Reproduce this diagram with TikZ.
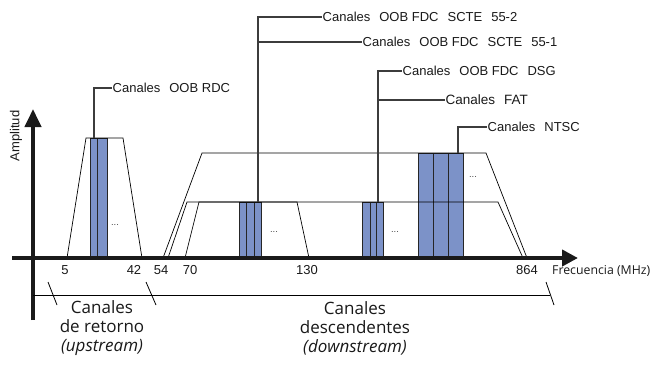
\documentclass[tikz,border=0pt]{standalone}
\usepackage{fontspec}
\setmainfont{Liberation Sans}
\newfontfamily\hum{Open Sans}
\usetikzlibrary{arrows.meta}
\definecolor{barblue}{RGB}{124,146,200}
\definecolor{leadgray}{RGB}{60,60,60}
\definecolor{axisblack}{RGB}{26,26,26}
\newcommand{\gp}{\hspace{9pt}}
\tikzset{
  trap/.style={line width=0.7pt, black},
  bar/.style={fill=barblue, draw=black!85, line width=0.6pt},
  lead/.style={line width=1.2pt, leadgray},
  axisline/.style={line width=4pt, axisblack},
  lab/.style={font=\fontsize{13}{15}\selectfont, anchor=west, inner sep=0.5pt, text=black!90},
  tick/.style={font=\fontsize{13}{15}\selectfont, inner sep=0pt, text=black!90},
  dots/.style={font=\fontsize{9.5}{10}\selectfont, inner sep=0pt, text=black!70},
  big/.style={font=\hum\fontsize{17}{19}\selectfont, align=center, inner sep=0pt, text=black!90},
  thin/.style={line width=0.8pt, black}
}
\begin{document}
\begin{tikzpicture}[x=1pt,y=-1pt]
\useasboundingbox (0,0) rectangle (658,373);
% bars
\draw[bar] (90,138) rectangle (97,258);
\draw[bar] (97,138) rectangle (107,258);
\draw[bar] (239,202) rectangle (246,258);
\draw[bar] (246,202) rectangle (254,258);
\draw[bar] (254,202) rectangle (261,258);
\draw[bar] (362,202) rectangle (370,258);
\draw[bar] (370,202) rectangle (376,258);
\draw[bar] (376,202) rectangle (383,258);
\draw[bar] (418,153) rectangle (433,258);
\draw[bar] (433,153) rectangle (448,258);
\draw[bar] (448,153) rectangle (463,258);
% trapezoids
\draw[trap] (67,258) -- (86,138) -- (123,138) -- (142,258);
\draw[trap] (163,258) -- (202,153) -- (486,153) -- (527,258);
\draw[trap] (168,258) -- (187,202) -- (498,202) -- (523,258);
\draw[trap] (185,258) -- (199,202) -- (297,202) -- (309,258);
% dots
\node[dots] (d1) at (115,225) {...};
\node[dots] (d2) at (274,232) {...};
\node[dots] (d3) at (395,232) {...};
\node[dots] (d4) at (473,177) {...};
% axes
\draw[axisline, -{Triangle[length=16pt,width=16pt]}] (12,258) -- (578,258);
\draw[axisline, -{Triangle[length=18pt,width=16pt]}] (33,320) -- (33,109);
\node[font=\fontsize{13}{15}\selectfont, rotate=90, inner sep=0pt, text=black!90] (amp) at (16,136) {Amplitud};
% labels
\node[lab] (rdc) at (112,88) {Canales\gp OOB RDC};
\node[lab] (s2) at (322,17) {Canales\gp OOB FDC\gp SCTE\gp 55-2};
\node[lab] (s1) at (362,42) {Canales\gp OOB FDC\gp SCTE\gp 55-1};
\node[lab] (dsg) at (402,71) {Canales\gp OOB FDC\gp DSG};
\node[lab, font=\fontsize{13.5}{15}\selectfont] (fat) at (445,100) {Canales\gp FAT};
\node[lab] (ntsc) at (487,127) {Canales\gp NTSC};
\coordinate (rdcb) at (94,138);
\coordinate (s2b) at (258,202);
\coordinate (s1j) at (258,42);
\coordinate (dsgb) at (378,202);
\coordinate (fatj) at (378,100);
\coordinate (ntscb) at (458,153);
\draw[lead] (rdcb) |- (rdc.west);
\draw[lead] (s2b) |- (s2.west);
\draw[lead] (s1j) -- (s1.west);
\draw[lead] (dsgb) |- (dsg.west);
\draw[lead] (fatj) -- (fat.west);
\draw[lead] (ntscb) |- (ntsc.west);
% ticks
\node[tick] (t5) at (65,270) {5};
\node[tick] (t42) at (134,270) {42};
\node[tick] (t54) at (161,270) {54};
\node[tick] (t70) at (190,270) {70};
\node[tick] (t130) at (307,270) {130};
\node[tick] (t864) at (527,270) {864};
\node[font=\hum\fontsize{12.3}{14}\selectfont, anchor=west, inner sep=0pt, text=black!90] (freq) at (552,271) {Frecuencia (MHz)};
% bracket
\coordinate (bl) at (33,295);
\coordinate (br) at (550,295);
\draw[thin] (bl) -- (br);
\draw[thin] (48,282) -- (57,305);
\draw[thin] (146,282) -- (156,305);
\draw[thin] (546,282) -- (554,305);
\node[big] (up) at (102,328) {Canales\\de retorno\\\textit{(upstream)}};
\node[big] (down) at (355,328) {Canales\\descendentes\\\textit{(downstream)}};
\end{tikzpicture}
\end{document}
